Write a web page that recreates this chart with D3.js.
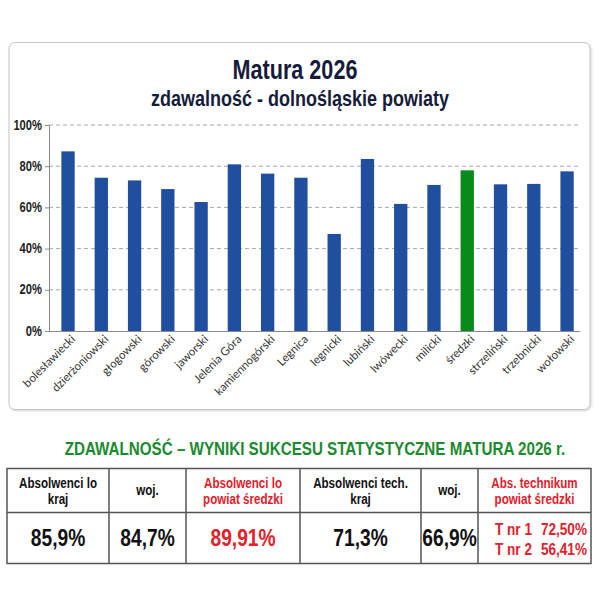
<!DOCTYPE html>
<html>
<head>
<meta charset="utf-8">
<script src="https://cdn.jsdelivr.net/npm/d3@7"></script>
<style>
  body { margin: 0; background: #fff; }
  svg { display: block; }
  .narrow { font-family: "Liberation Sans", Arial, sans-serif; font-weight: bold; }
</style>
</head>
<body>
<script>
const powiaty = ["bolesławiecki", "dzierżoniowski", "głogowski", "górowski", "jaworski", "Jelenia Góra",
  "kamiennogórski", "Legnica", "legnicki", "lubiński", "lwówecki", "milicki", "średzki",
  "strzeliński", "trzebnicki", "wołowski"];
const zdawalnosc = [87.2, 74.4, 73.1, 68.9, 62.6, 80.9, 76.4, 74.4, 47.1, 83.5, 61.7, 70.9, 78.0, 71.2, 71.4, 77.5];
const highlight = "średzki";
const yTicks = [0, 20, 40, 60, 80, 100];

const tableTitle = "ZDAWALNOŚĆ – WYNIKI SUKCESU STATYSTYCZNE MATURA 2026 r.";
const tableHeaders = [["Absolwenci lo", "kraj"], ["woj."], ["Absolwenci lo", "powiat średzki"],
  ["Absolwenci tech.", "kraj"], ["woj."], ["Abs. technikum", "powiat średzki"]];
const tableValues = ["85,9%", "84,7%", "89,91%", "71,3%", "66,9%", null];
const technika = [["T nr 1", "72,50%"], ["T nr 2", "56,41%"]];
const tableRed = [false, false, true, false, false, true];

const W = 600, H = 600;
const Lpad = 49, Rpad = 580;
const Top = 125, Bottom = 331;
const squeeze = 0.8;

const svg = d3.select("body").append("svg")
  .attr("width", W)
  .attr("height", H);

// bold text squeezed sideways, so it reads like Arial Narrow
function narrow(parent, x, y, txt, size, color, anchor) {
  return parent.append("g")
    .attr("transform", `translate(${x},${y}) scale(${squeeze},1)`)
    .append("text")
    .attr("class", "narrow")
    .attr("text-anchor", anchor || "middle")
    .attr("fill", color)
    .style("font-size", size + "px")
    .text(txt);
}

const defs = svg.append("defs");
const f = defs.append("filter").attr("id", "shadow").attr("x", "-5%").attr("y", "-5%").attr("width", "110%").attr("height", "110%");
f.append("feDropShadow").attr("dx", 1).attr("dy", 1).attr("stdDeviation", 1.2).attr("flood-color", "#000").attr("flood-opacity", 0.18);

svg.append("rect")
  .attr("x", 9).attr("y", 42.5)
  .attr("width", 581).attr("height", 367)
  .attr("rx", 6)
  .attr("fill", "#fff")
  .attr("stroke", "#c4c4c4")
  .attr("filter", "url(#shadow)");

narrow(svg, 295, 79, "Matura 2026", 27, "#161b3a");
narrow(svg, 300, 106, "zdawalność - dolnośląskie powiaty", 22.5, "#161b3a");

const xScale = d3.scaleBand()
  .domain(powiaty)
  .range([51.4, 583.7])
  .paddingInner(0.6)
  .paddingOuter(0.3);

const yScale = d3.scaleLinear()
  .domain([0, 100])
  .range([Bottom, Top]);

// gridlines
svg.append("g")
  .selectAll("line")
  .data(yTicks.filter(d => d > 0))
  .enter()
  .append("line")
  .attr("x1", Lpad).attr("x2", Rpad)
  .attr("y1", d => yScale(d)).attr("y2", d => yScale(d))
  .attr("stroke", "#a8a8a8")
  .attr("stroke-dasharray", "4,3");

const yAxis = d3.axisLeft(yScale)
  .tickValues(yTicks)
  .tickSize(4)
  .tickFormat(() => "");

const yG = svg.append("g")
  .attr("transform", `translate(${Lpad},0)`)
  .call(yAxis);
yG.select(".domain").attr("stroke", "#8a8a8a");
yG.selectAll(".tick line").attr("stroke", "#8a8a8a");
yTicks.forEach(t => {
  narrow(svg, 42, yScale(t) + 4.5, t + "%", 14, "#222", "end");
});

svg.selectAll(".bar")
  .data(powiaty)
  .enter()
  .append("rect")
  .attr("class", "bar")
  .attr("x", d => xScale(d))
  .attr("width", xScale.bandwidth())
  .attr("y", (d, i) => yScale(zdawalnosc[i]))
  .attr("height", (d, i) => Bottom - yScale(zdawalnosc[i]))
  .attr("fill", d => d === highlight ? "#0b8a1c" : "#1f4f9e");

const xAxis = d3.axisBottom(xScale).tickSize(0);
const xG = svg.append("g")
  .attr("transform", `translate(0,${Bottom})`)
  .call(xAxis);
xG.select(".domain").attr("stroke", "#8a8a8a").attr("d", `M${Lpad},0.5H${Rpad}`);
xG.selectAll("text")
  .attr("transform", "translate(5,6) rotate(-45)")
  .attr("text-anchor", "end")
  .attr("dy", "0.35em")
  .attr("y", 0)
  .attr("fill", "#333")
  .style("font-family", "Lato, 'Liberation Sans', sans-serif")
  .style("font-size", "11.5px");

// table below the chart
narrow(svg, 315, 455, tableTitle, 19, "#1b8a2f");

const cols = [7, 109, 186, 300, 421, 478, 591];
const rowTop = 468.5, rowMid = 512.5, rowBot = 563.5;

const table = svg.append("g");
table.append("rect")
  .attr("x", cols[0]).attr("y", rowTop)
  .attr("width", cols[6] - cols[0]).attr("height", rowBot - rowTop)
  .attr("fill", "none").attr("stroke", "#555").attr("stroke-width", 1.5);
table.append("line")
  .attr("x1", cols[0]).attr("x2", cols[6])
  .attr("y1", rowMid).attr("y2", rowMid)
  .attr("stroke", "#555").attr("stroke-width", 1.5);
table.selectAll(".vline")
  .data(cols.slice(1, 6))
  .enter()
  .append("line")
  .attr("x1", d => d).attr("x2", d => d)
  .attr("y1", rowTop).attr("y2", rowBot)
  .attr("stroke", "#555").attr("stroke-width", 1.5);

tableHeaders.forEach((lines, i) => {
  const cx = (cols[i] + cols[i + 1]) / 2;
  const y0 = lines.length === 1 ? 495 : 488;
  lines.forEach((l, j) => {
    narrow(table, cx, y0 + j * 16, l, 14.5, tableRed[i] ? "#e3202b" : "#111");
  });
});

tableValues.forEach((v, i) => {
  if (v === null) return;
  narrow(table, (cols[i] + cols[i + 1]) / 2, 546, v, 24, tableRed[i] ? "#e3202b" : "#111");
});

technika.forEach((row, j) => {
  narrow(table, 495, 535 + j * 20, row[0], 17, "#e3202b", "start");
  narrow(table, 587, 535 + j * 20, row[1], 17, "#e3202b", "end");
});
</script>
</body>
</html>
